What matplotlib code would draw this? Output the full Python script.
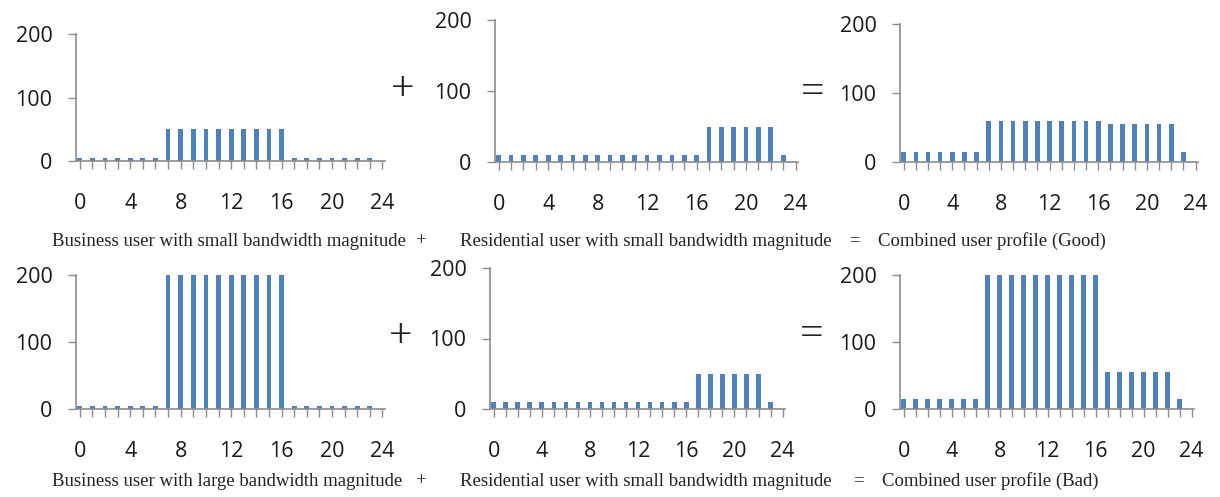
import matplotlib
matplotlib.use("Agg")
import matplotlib.pyplot as plt

# ---------------------------------------------------------------
# data: hourly bandwidth profiles (hours 0..23)
# ---------------------------------------------------------------
HOURS = list(range(24))

business_small = [5] * 7 + [50] * 10 + [5] * 7
residential_small = [10] * 17 + [50] * 6 + [10]
combined_good = [15] * 7 + [60] * 10 + [55] * 6 + [15]

business_large = [5] * 7 + [200] * 10 + [5] * 7
combined_bad = [15] * 7 + [200] * 10 + [55] * 6 + [15]

Y_TICKS = [0, 100, 200]
X_LABELS = [0, 4, 8, 12, 16, 20, 24]

CAPTIONS_TOP = ["Business user with small bandwidth magnitude", "+",
                "Residential user with small bandwidth magnitude", "=",
                "Combined user profile (Good)"]
CAPTIONS_BOT = ["Business user with large bandwidth magnitude", "+",
                "Residential user with small bandwidth magnitude", "=",
                "Combined user profile (Bad)"]

W, H = 1220, 497
BAR = "#4F81BD"
GREY = "#8c8c8c"
SANS = ["Open Sans", "DejaVu Sans"]
SERIF = "Liberation Serif"


def px_axes(fig, left, right, top, bottom):
    # axes from pixel box (spine left/right, y=200 / y=0 rows)
    return fig.add_axes([left / W, 1 - bottom / H,
                         (right - left) / W, (bottom - top) / H])


def draw(ax, values):
    ax.bar(HOURS, values, width=0.38, color=BAR, zorder=1)
    ax.set_xlim(-0.3, 24.2)
    ax.set_ylim(0, 200)
    ax.set_yticks(Y_TICKS)
    ax.set_xticks(range(25), minor=True)
    ax.set_xticks(X_LABELS)
    ax.set_xticklabels([str(v) for v in X_LABELS])
    for s in ["top", "right"]:
        ax.spines[s].set_visible(False)
    for s in ["left", "bottom"]:
        ax.spines[s].set_color(GREY)
        ax.spines[s].set_linewidth(1.2)
        ax.spines[s].set_zorder(3)
    ax.tick_params(axis="x", which="both", direction="out", length=6,
                   color=GREY, width=1, pad=17)
    ax.tick_params(axis="y", direction="out", length=6, color=GREY,
                   width=1, pad=11)
    for lab in ax.get_xticklabels() + ax.get_yticklabels():
        lab.set_fontfamily(SANS)
        lab.set_fontsize(15.5)
        lab.set_color("#1a1a1a")


fig = plt.figure(figsize=(W / 100, H / 100), dpi=100)

draw(px_axes(fig, 76, 385, 34, 161), business_small)
draw(px_axes(fig, 495, 798, 20, 162), residential_small)
draw(px_axes(fig, 900, 1198, 24, 162), combined_good)

draw(px_axes(fig, 76, 385, 275, 409), business_large)
draw(px_axes(fig, 490, 785, 268, 409), residential_small)
draw(px_axes(fig, 900, 1194, 275, 409), combined_bad)

# operators between panels
for x, y, s in [(403, 90, "+"), (813, 93, "="), (401, 337, "+"), (812, 335, "=")]:
    fig.text(x / W, 1 - y / H, s, ha="center", va="center",
             fontsize=30, family=SERIF, color="#222222")

# captions
cap_x = [52, 416, 460, 849, 878]
for txt, x in zip(CAPTIONS_TOP, cap_x):
    fig.text(x / W, 1 - 241 / H, txt, ha="left", va="center",
             fontsize=13.5, family=SERIF, color="#222222")
cap_x = [52, 416, 460, 853, 882]
for txt, x in zip(CAPTIONS_BOT, cap_x):
    fig.text(x / W, 1 - 481 / H, txt, ha="left", va="center",
             fontsize=13.5, family=SERIF, color="#222222")

fig.savefig("out.png", dpi=100)
plt.close(fig)
